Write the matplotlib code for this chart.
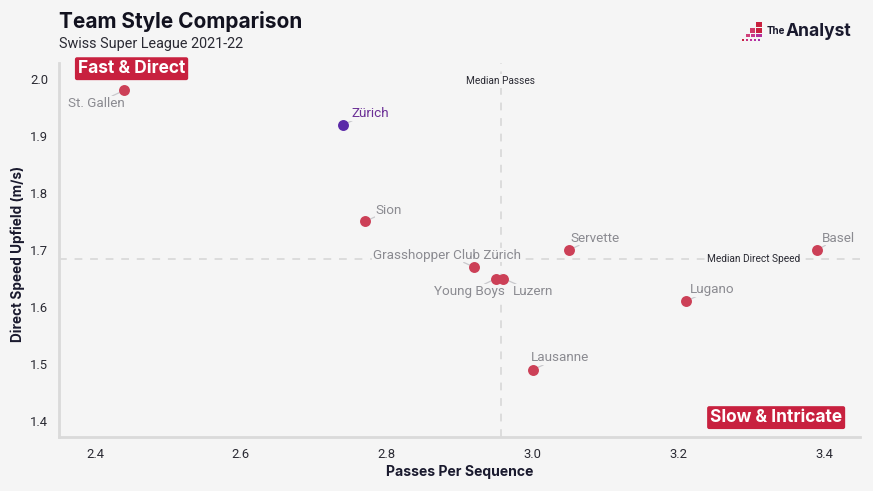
import matplotlib
matplotlib.use("Agg")
import matplotlib.pyplot as plt
from matplotlib.patches import Rectangle

plt.rcParams['font.family'] = ['Roboto', 'DejaVu Sans']

teams = ["St. Gallen", "Zürich", "Sion", "Grasshopper Club Zürich", "Young Boys",
         "Luzern", "Servette", "Basel", "Lugano", "Lausanne"]
passes_per_seq = [2.44, 2.74, 2.77, 2.92, 2.95, 2.96, 3.05, 3.39, 3.21, 3.00]
direct_speed = [1.98, 1.92, 1.75, 1.67, 1.65, 1.65, 1.70, 1.70, 1.61, 1.49]
x_ticks = [2.4, 2.6, 2.8, 3.0, 3.2, 3.4]
y_ticks = [1.4, 1.5, 1.6, 1.7, 1.8, 1.9, 2.0]
median_passes = 2.956
median_speed = 1.685

# label offset from the point in pixels, and alignment
label_pos = {
    "St. Gallen": (-28, -13, "center"),
    "Zürich": (8, 11, "left"),
    "Sion": (11, 11, "left"),
    "Grasshopper Club Zürich": (-27, 12, "center"),
    "Young Boys": (-27, -13, "center"),
    "Luzern": (9, -13, "left"),
    "Servette": (1, 12, "left"),
    "Basel": (5, 12, "left"),
    "Lugano": (4, 12, "left"),
    "Lausanne": (-2, 12, "left"),
}

BG = "#f5f5f5"
RED = "#cc4057"
PURPLE = "#5b2aa8"
GREY = "#8b8b91"
DARK = "#2a2a33"
W, H = 873, 491

fig = plt.figure(figsize=(8.73, 4.91), dpi=100, facecolor=BG)
ax = fig.add_axes([59 / W, 1 - 437 / H, (860 - 59) / W, (437 - 63) / H], facecolor=BG)
ax.set_xlim(2.3505, 3.449)
ax.set_ylim(1.372, 2.028)

ax.axvline(median_passes, color="#dcdcdc", lw=1.4, ls=(0, (4, 4)), zorder=1)
ax.axhline(median_speed, color="#dcdcdc", lw=1.4, ls=(0, (4, 4)), zorder=1)

for i in range(len(teams)):
    team = teams[i]
    is_focus = team == "Zürich"
    ax.scatter(passes_per_seq[i], direct_speed[i], s=62, linewidths=0, zorder=4,
               color=PURPLE if is_focus else RED)
    dx, dy, ha = label_pos[team]
    ax.annotate(team, (passes_per_seq[i], direct_speed[i]), xytext=(dx, dy),
                textcoords="offset pixels", ha=ha, va="center", fontsize=9.7,
                color="#6b2f96" if is_focus else GREY, zorder=3,
                bbox=dict(facecolor=BG, edgecolor="none", pad=0.6),
                arrowprops=dict(arrowstyle="-", color="#c9c9cd", lw=0.9, shrinkA=0, shrinkB=0))

ax.text(median_passes, 1.997, "Median Passes", fontsize=7.3, color=DARK, ha="center", va="center",
        bbox=dict(facecolor=BG, edgecolor="none", pad=1.5), zorder=2)
ax.text(3.303, median_speed, "Median Direct Speed", fontsize=7.3, color=DARK, ha="center", va="center",
        bbox=dict(facecolor=BG, edgecolor="none", pad=1.5), zorder=2)

bold = ["Inter", "DejaVu Sans"]
box = dict(boxstyle="round,pad=0.17,rounding_size=0.12", facecolor="#c8213f", edgecolor="none")
ax.text(2.450, 2.018, "Fast & Direct", fontsize=12.5, fontweight="bold", family=bold,
        color="white", ha="center", va="center", bbox=box, zorder=5)
ax.text(3.334, 1.406, "Slow & Intricate", fontsize=12.5, fontweight="bold", family=bold,
        color="white", ha="center", va="center", bbox=box, zorder=5)

ax.set_xticks(x_ticks, [f"{v:.1f}" for v in x_ticks])
ax.set_yticks(y_ticks, [f"{v:.1f}" for v in y_ticks])
ax.tick_params(length=0, labelsize=9.4, labelcolor=DARK, pad=8)
for s in ["top", "right"]:
    ax.spines[s].set_visible(False)
for s in ["left", "bottom"]:
    ax.spines[s].set_color("#dadada")
    ax.spines[s].set_linewidth(2.0)

fig.text(460 / W, 1 - 472 / H, "Passes Per Sequence", fontsize=10.1, fontweight="bold", family=bold, color="#1a1a2e", ha="center", va="center")
fig.text(18 / W, 1 - 254 / H, "Direct Speed Upfield (m/s)", fontsize=9.8, fontweight="bold", family=bold, color="#1a1a2e", rotation=90, ha="center", va="center")
fig.text(59 / W, 1 - 21 / H, "Team Style Comparison", fontsize=15, fontweight="bold", family=bold, color="#12121f", ha="left", va="center")
fig.text(59 / W, 1 - 44 / H, "Swiss Super League 2021-22", fontsize=10.4, color="#2a2a33", ha="left", va="center")

# logo blocks
logo = [(756, 22, 6, 5, "#c8213f"),
        (750, 28, 5, 5, "#d03a6a"), (756, 28, 6, 5, "#c8213f"),
        (746, 34, 4, 3, "#d0407a"), (751, 34, 4, 3, "#c93a8c"), (756, 34, 6, 3, "#b52f9c"),
        (742, 39, 2, 2, "#c8213f"), (746, 39, 2, 2, "#c8307f"), (750, 39, 2, 2, "#c030a0"),
        (754, 39, 2, 2, "#b52f9c"), (758, 39, 2, 2, "#a52fa8")]
for px, py, w, h, col in logo:
    fig.add_artist(Rectangle((px / W, 1 - (py + h) / H), w / W, h / H,
                             transform=fig.transFigure, facecolor=col, edgecolor="none"))
fig.text(767 / W, 1 - 31 / H, "The", fontsize=7, fontweight="bold", family=bold, color="#1a1a2e", ha="left", va="center")
fig.text(786 / W, 1 - 32 / H, "Analyst", fontsize=12.6, fontweight="bold", family=bold, color="#1a1a2e", ha="left", va="center")

fig.savefig("out.png", dpi=100, facecolor=BG)
